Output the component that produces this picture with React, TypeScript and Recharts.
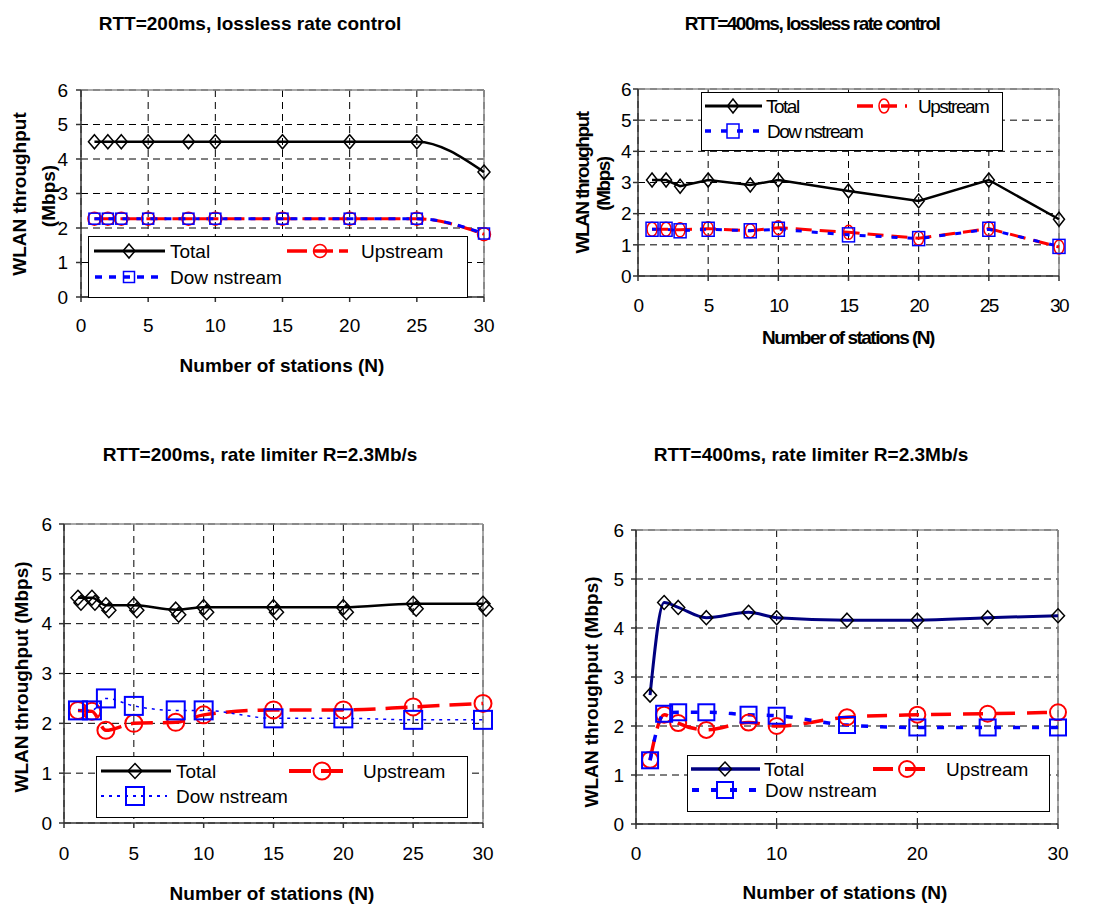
import React from 'react';
import { LineChart, Line, XAxis, YAxis, CartesianGrid, ReferenceLine, Legend } from 'recharts';

// number of stations (x) shared by all four panels
const stations = [1, 2, 3, 5, 8, 10, 15, 20, 25, 30];
const yTicks = [0, 1, 2, 3, 4, 5, 6];
const xTicksBy5 = [0, 5, 10, 15, 20, 25, 30];
const xTicksBy10 = [0, 10, 20, 30];

// RTT=200ms, lossless rate control
const total200Lossless = [4.5, 4.5, 4.5, 4.5, 4.5, 4.5, 4.5, 4.5, 4.5, 3.62];
const up200Lossless = [2.27, 2.27, 2.27, 2.27, 2.27, 2.27, 2.27, 2.27, 2.27, 1.82];
const down200Lossless = [2.27, 2.27, 2.27, 2.27, 2.27, 2.27, 2.27, 2.27, 2.27, 1.84];

// RTT=400ms, lossless rate control
const total400Lossless = [3.08, 3.08, 2.88, 3.08, 2.92, 3.08, 2.73, 2.41, 3.08, 1.82];
const up400Lossless = [1.5, 1.5, 1.48, 1.52, 1.45, 1.55, 1.4, 1.21, 1.52, 0.93];
const down400Lossless = [1.5, 1.5, 1.45, 1.5, 1.45, 1.5, 1.32, 1.2, 1.5, 0.95];

// RTT=200ms, rate limiter R=2.3Mb/s
const total200Limiter = [4.52, 4.52, 4.37, 4.37, 4.28, 4.33, 4.33, 4.33, 4.4, 4.4];
const up200Limiter = [2.26, 2.24, 1.86, 2.0, 2.02, 2.17, 2.27, 2.27, 2.33, 2.4];
const down200Limiter = [2.26, 2.26, 2.5, 2.35, 2.26, 2.26, 2.1, 2.1, 2.07, 2.07];

// RTT=400ms, rate limiter R=2.3Mb/s
const total400Limiter = [2.63, 4.52, 4.42, 4.21, 4.32, 4.21, 4.16, 4.16, 4.21, 4.25];
const up400Limiter = [1.31, 2.23, 2.06, 1.92, 2.07, 2.0, 2.18, 2.23, 2.25, 2.28];
const down400Limiter = [1.3, 2.25, 2.28, 2.28, 2.23, 2.21, 2.02, 1.97, 1.97, 1.97];

const FONT = '"Liberation Sans", Arial, Helvetica, sans-serif';

type Mk = { shape: 'diamond' | 'circle' | 'square'; w: number; h: number; color: string; sw: number; double?: boolean };

function markerShape(m: Mk, x: number, y: number, k: string) {
  const hw = m.w / 2;
  const hh = m.h / 2;
  if (m.shape === 'diamond')
    return <path key={k} d={`M${x},${y - hh}L${x + hw},${y}L${x},${y + hh}L${x - hw},${y}Z`} fill="none" stroke={m.color} strokeWidth={m.sw} />;
  if (m.shape === 'circle')
    return <ellipse key={k} cx={x} cy={y} rx={hw} ry={hh} fill="none" stroke={m.color} strokeWidth={m.sw} />;
  return <rect key={k} x={x - hw} y={y - hh} width={m.w} height={m.h} fill="none" stroke={m.color} strokeWidth={m.sw} />;
}

function Marker({ cx, cy, m }: { cx?: number; cy?: number; m: Mk }) {
  if (cx == null || cy == null) return null;
  return (
    <g>
      {markerShape(m, cx, cy, 'a')}
      {m.double ? markerShape(m, cx + 3, cy + 5, 'b') : null}
    </g>
  );
}

type Ser = { key: string; name: string; color: string; width: number; dash?: string; curve: any; marker: Mk };
type Item = { x1: number; x2: number; mx: number; tx: number; y: number };

type PanelCfg = {
  title: string;
  total: number[];
  up: number[];
  down: number[];
  xTicks: number[];
  box: { x: number; y: number; w: number; h: number };
  plot: { l: number; r: number; t: number; b: number };
  xTickGap: number;
  yTickGap: number;
  titlePos: { x: number; y: number };
  yLabels: { t: string; x: number; y: number }[];
  xLabel: { x: number; y: number };
  legend: { x: number; y: number; w: number; h: number; items: Item[] };
  series: Ser[];
  spacing: number;
};

const panels: PanelCfg[] = [
  {
    title: 'RTT=200ms, lossless rate control',
    total: total200Lossless,
    up: up200Lossless,
    down: down200Lossless,
    xTicks: xTicksBy5,
    box: { x: 0, y: 0, w: 550, h: 400 },
    plot: { l: 81, r: 484, t: 90, b: 297 },
    xTickGap: 22,
    yTickGap: 13,
    titlePos: { x: 250, y: 23 },
    yLabels: [
      { t: 'WLAN throughput', x: 19, y: 194 },
      { t: '(Mbps)', x: 48, y: 196 },
    ],
    xLabel: { x: 282, y: 365 },
    legend: {
      x: 88, y: 236, w: 380, h: 62,
      items: [
        { x1: 94, x2: 165, mx: 129, tx: 170, y: 251 },
        { x1: 287, x2: 348, mx: 320, tx: 361, y: 251 },
        { x1: 95, x2: 165, mx: 129, tx: 170, y: 277 },
      ],
    },
    series: [
      { key: 'total', name: 'Total', color: '#000', width: 2.5, curve: 'monotone', marker: { shape: 'diamond', w: 12, h: 14, color: '#000', sw: 1.5 } },
      { key: 'up', name: 'Upstream', color: '#ff0000', width: 3, dash: '20 6', curve: 'monotone', marker: { shape: 'circle', w: 13, h: 13, color: '#ff0000', sw: 1.5 } },
      { key: 'down', name: 'Dow nstream', color: '#0000ff', width: 3, dash: '7 7', curve: 'monotone', marker: { shape: 'square', w: 11, h: 11, color: '#0000ff', sw: 1.5 } },
    ],
    spacing: 0,
  },
  {
    title: 'RTT=400ms, lossless rate control',
    total: total400Lossless,
    up: up400Lossless,
    down: down400Lossless,
    xTicks: xTicksBy5,
    box: { x: 550, y: 0, w: 551, h: 400 },
    plot: { l: 638, r: 1059, t: 89, b: 276 },
    xTickGap: 23,
    yTickGap: 8,
    titlePos: { x: 812, y: 23 },
    yLabels: [
      { t: 'WLAN throughput', x: 582, y: 183 },
      { t: '(Mbps)', x: 603, y: 184 },
    ],
    xLabel: { x: 848, y: 337 },
    legend: {
      x: 701, y: 92, w: 302, h: 59,
      items: [
        { x1: 705, x2: 762, mx: 733, tx: 766, y: 106 },
        { x1: 857, x2: 907, mx: 884, tx: 918, y: 106 },
        { x1: 705, x2: 762, mx: 733, tx: 767, y: 131 },
      ],
    },
    series: [
      { key: 'total', name: 'Total', color: '#000', width: 2.5, curve: 'linear', marker: { shape: 'diamond', w: 11, h: 14, color: '#000', sw: 1.5 } },
      { key: 'up', name: 'Upstream', color: '#ff0000', width: 3, dash: '16 8', curve: 'linear', marker: { shape: 'circle', w: 10, h: 14, color: '#ff0000', sw: 1.5 } },
      { key: 'down', name: 'Dow nstream', color: '#0000ff', width: 3, dash: '6 10', curve: 'linear', marker: { shape: 'square', w: 12, h: 14, color: '#0000ff', sw: 1.5 } },
    ],
    spacing: -1.5,
  },
  {
    title: 'RTT=200ms, rate limiter R=2.3Mb/s',
    total: total200Limiter,
    up: up200Limiter,
    down: down200Limiter,
    xTicks: xTicksBy5,
    box: { x: 0, y: 430, w: 550, h: 475 },
    plot: { l: 64, r: 483, t: 524, b: 823 },
    xTickGap: 24,
    yTickGap: 12,
    titlePos: { x: 260, y: 454 },
    yLabels: [{ t: 'WLAN throughput (Mbps)', x: 21, y: 677 }],
    xLabel: { x: 272, y: 893 },
    legend: {
      x: 96, y: 756, w: 372, h: 62,
      items: [
        { x1: 101, x2: 171, mx: 135, tx: 176, y: 771 },
        { x1: 289, x2: 349, mx: 322, tx: 363, y: 771 },
        { x1: 101, x2: 167, mx: 135, tx: 176, y: 796 },
      ],
    },
    series: [
      { key: 'total', name: 'Total', color: '#000', width: 2.5, curve: 'monotone', marker: { shape: 'diamond', w: 14, h: 15, color: '#000', sw: 1.5, double: true } },
      { key: 'up', name: 'Upstream', color: '#ff0000', width: 3.5, dash: '22 10', curve: 'monotone', marker: { shape: 'circle', w: 17, h: 17, color: '#ff0000', sw: 2 } },
      { key: 'down', name: 'Dow nstream', color: '#0000ff', width: 1.5, dash: '3 5', curve: 'monotone', marker: { shape: 'square', w: 18, h: 18, color: '#0000ff', sw: 2 } },
    ],
    spacing: 0,
  },
  {
    title: 'RTT=400ms, rate limiter R=2.3Mb/s',
    total: total400Limiter,
    up: up400Limiter,
    down: down400Limiter,
    xTicks: xTicksBy10,
    box: { x: 550, y: 430, w: 551, h: 475 },
    plot: { l: 636, r: 1058, t: 530, b: 824 },
    xTickGap: 23,
    yTickGap: 12,
    titlePos: { x: 811, y: 454 },
    yLabels: [{ t: 'WLAN throughput (Mbps)', x: 591, y: 692 }],
    xLabel: { x: 845, y: 892 },
    legend: {
      x: 687, y: 755, w: 363, h: 57,
      items: [
        { x1: 691, x2: 760, mx: 725, tx: 764, y: 769 },
        { x1: 873, x2: 934, mx: 907, tx: 946, y: 769 },
        { x1: 692, x2: 760, mx: 725, tx: 765, y: 790 },
      ],
    },
    series: [
      { key: 'total', name: 'Total', color: '#000080', width: 3, curve: 'monotone', marker: { shape: 'diamond', w: 13, h: 14, color: '#000', sw: 1.5 } },
      { key: 'up', name: 'Upstream', color: '#ff0000', width: 3.5, dash: '20 12', curve: 'monotone', marker: { shape: 'circle', w: 16, h: 16, color: '#ff0000', sw: 2 } },
      { key: 'down', name: 'Dow nstream', color: '#0000ff', width: 3.5, dash: '7 12', curve: 'monotone', marker: { shape: 'square', w: 16, h: 16, color: '#0000ff', sw: 2 } },
    ],
    spacing: 0,
  },
];

function LegendBox({ p }: { p: PanelCfg }) {
  const lg = p.legend;
  return (
    <svg width={lg.w} height={lg.h} style={{ display: 'block', overflow: 'visible' }}>
      <rect x={0.5} y={0.5} width={lg.w - 1} height={lg.h - 1} fill="#fff" stroke="#000" strokeWidth={1} />
      {p.series.map((s, i) => {
        const it = lg.items[i];
        const y = it.y - lg.y;
        return (
          <g key={s.key}>
            <line x1={it.x1 - lg.x} x2={it.x2 - lg.x} y1={y} y2={y} stroke={s.color} strokeWidth={s.width + 0.5} strokeDasharray={s.dash} />
            {markerShape({ ...s.marker, double: false }, it.mx - lg.x, y, 'm')}
            <text x={it.tx - lg.x} y={y} dominantBaseline="central" fontSize={19} fill="#000" letterSpacing={p.spacing}>
              {s.name}
            </text>
          </g>
        );
      })}
    </svg>
  );
}

function Panel({ p }: { p: PanelCfg }) {
  const data = stations.map((n, i) => ({ n, total: p.total[i], up: p.up[i], down: p.down[i] }));
  const { box, plot } = p;
  const yW = 60;
  const xH = 40;
  const margin = {
    top: plot.t - box.y,
    right: box.x + box.w - plot.r,
    bottom: box.y + box.h - plot.b - xH,
    left: plot.l - box.x - yW,
  };
  const tickStyle = { fill: '#000', fontSize: 19, letterSpacing: p.spacing };
  const textBase: React.CSSProperties = { position: 'absolute', whiteSpace: 'nowrap', fontSize: 19, letterSpacing: p.spacing, lineHeight: 1 };
  return (
    <div style={{ position: 'absolute', left: box.x, top: box.y, width: box.w, height: box.h }}>
      <LineChart width={box.w} height={box.h} data={data} margin={margin}>
        <CartesianGrid stroke="#000" strokeDasharray="7 5" strokeWidth={1} />
        <XAxis
          dataKey="n"
          type="number"
          domain={[0, 30]}
          ticks={p.xTicks}
          height={xH}
          tickSize={5}
          tickMargin={p.xTickGap - 5}
          tick={tickStyle}
          stroke="#333"
          strokeWidth={1.5}
        />
        <YAxis
          domain={[0, 6]}
          ticks={yTicks}
          width={yW}
          tickSize={5}
          tickMargin={p.yTickGap - 5}
          tick={tickStyle}
          stroke="#333"
          strokeWidth={1.5}
        />
        <ReferenceLine y={6} stroke="#8c8c8c" strokeWidth={1.5} />
        <ReferenceLine x={30} stroke="#8c8c8c" strokeWidth={1.5} />
        {p.series.map((s) => (
          <Line
            key={s.key}
            dataKey={s.key}
            name={s.name}
            type={s.curve}
            stroke={s.color}
            strokeWidth={s.width}
            strokeDasharray={s.dash}
            isAnimationActive={false}
            activeDot={false}
            dot={(d: any) => <Marker key={`${s.key}-${d.index}`} cx={d.cx} cy={d.cy} m={s.marker} />}
          />
        ))}
        <Legend
          layout="horizontal"
          verticalAlign="middle"
          align="center"
          wrapperStyle={{ left: p.legend.x - box.x, top: p.legend.y - box.y, width: p.legend.w, height: p.legend.h }}
          content={() => <LegendBox p={p} />}
        />
      </LineChart>
      <div style={{ ...textBase, fontWeight: 'bold', left: p.titlePos.x - box.x, top: p.titlePos.y - box.y, transform: 'translate(-50%, -50%)' }}>
        {p.title}
      </div>
      <div style={{ ...textBase, fontWeight: 'bold', left: p.xLabel.x - box.x, top: p.xLabel.y - box.y, transform: 'translate(-50%, -50%)' }}>
        Number of stations (N)
      </div>
      {p.yLabels.map((l) => (
        <div
          key={l.t}
          style={{ ...textBase, fontWeight: 'bold', left: l.x - box.x, top: l.y - box.y, transform: 'translate(-50%, -50%) rotate(-90deg)' }}
        >
          {l.t}
        </div>
      ))}
    </div>
  );
}

export default function App() {
  return (
    <div style={{ position: 'absolute', left: 0, top: 0, width: 1101, height: 905, background: '#fff', fontFamily: FONT, color: '#000' }}>
      {panels.map((p) => (
        <Panel key={p.title} p={p} />
      ))}
    </div>
  );
}
